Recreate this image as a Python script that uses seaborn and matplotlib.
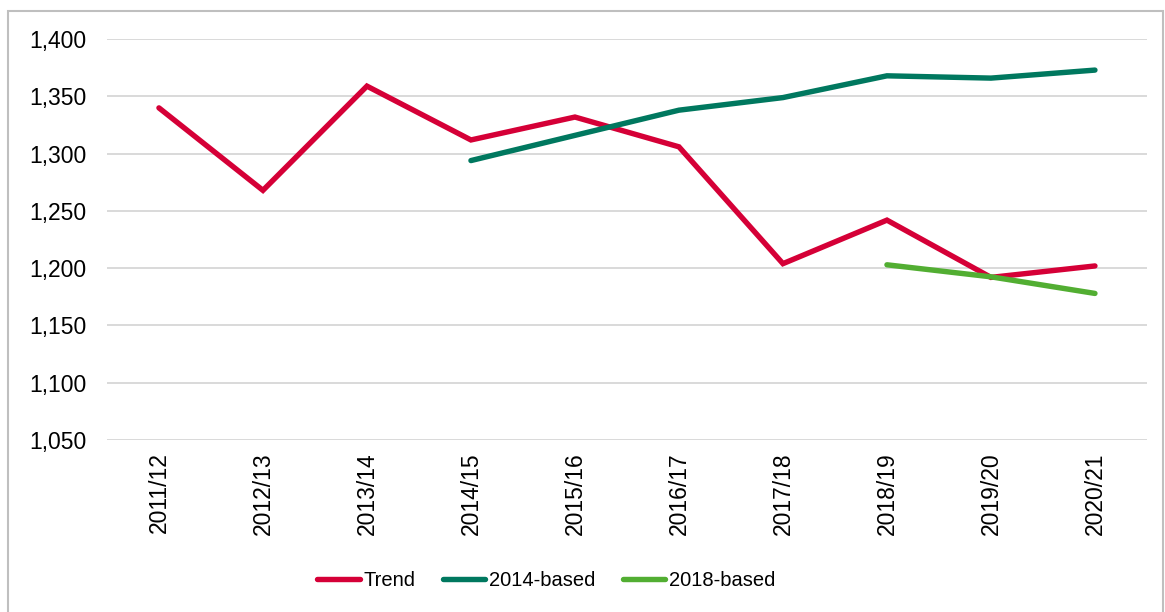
import numpy as np
import pandas as pd
import matplotlib
matplotlib.use("Agg")
import matplotlib.pyplot as plt
from matplotlib.patches import Rectangle
from matplotlib.ticker import FuncFormatter
import seaborn as sns

# Données
years = ["2011/12", "2012/13", "2013/14", "2014/15", "2015/16",
         "2016/17", "2017/18", "2018/19", "2019/20", "2020/21"]
trend = [1340, 1268, 1359, 1312, 1332, 1306, 1204, 1242, 1192, 1202]
based_2014 = [np.nan, np.nan, np.nan, 1294, 1316, 1338, 1349, 1368, 1366, 1373]
based_2018 = [np.nan, np.nan, np.nan, np.nan, np.nan, np.nan, np.nan, 1203, 1192.5, 1178]

series_names = ["Trend", "2014-based", "2018-based"]
colors = ["#D50037", "#00785F", "#52AE32"]

df = pd.DataFrame({"pos": range(len(years)), "Trend": trend,
                   "2014-based": based_2014, "2018-based": based_2018})
long = df.melt(id_vars="pos", var_name="serie", value_name="valeur").dropna()

sns.set_style("white")
plt.rcParams["font.family"] = ["Liberation Sans", "DejaVu Sans"]
plt.rcParams["text.color"] = "black"

fig = plt.figure(figsize=(11.65, 6.12), dpi=100)
ax = fig.add_axes([0.0918, 0.281, 0.8927, 0.655])

sns.lineplot(data=long, x="pos", y="valeur", hue="serie", hue_order=series_names,
             palette=colors, linewidth=3.9, ax=ax, legend=False,
             solid_capstyle="round", solid_joinstyle="miter")

ax.set_xlim(-0.5, len(years) - 0.5)
ax.set_ylim(1050, 1400)
ax.set_yticks(np.arange(1050, 1401, 50))
ax.yaxis.set_major_formatter(FuncFormatter(lambda v, p: f"{int(v):,}"))
ax.set_xticks(range(len(years)))
ax.set_xticklabels(years, rotation=90)
ax.tick_params(axis="both", length=0, labelsize=16.5, colors="black")
ax.tick_params(axis="x", pad=9)
ax.tick_params(axis="y", pad=15)
ax.set_xlabel("")
ax.set_ylabel("")
ax.grid(axis="y", color="#D9D9D9", linewidth=1.4)
ax.grid(axis="x", visible=False)
for s in ax.spines.values():
    s.set_visible(False)
ax.set_axisbelow(True)

handles = [plt.Line2D([], [], color=c, linewidth=3.9, solid_capstyle="round") for c in colors]
fig.legend(handles, series_names, loc="center", bbox_to_anchor=(0.469, 0.052), ncol=3,
           frameon=False, fontsize=14.5, handlelength=2.1, handletextpad=0.2,
           columnspacing=1.35, labelcolor="black")

# cadre gris autour du graphique
fig.patches.append(Rectangle((8 / 1165, -0.01), 1 - 10 / 1165, 1 - 11 / 612 + 0.01,
                             transform=fig.transFigure, fill=False,
                             edgecolor="#BFBFBF", linewidth=1.5))

fig.savefig("out.png", dpi=100)
